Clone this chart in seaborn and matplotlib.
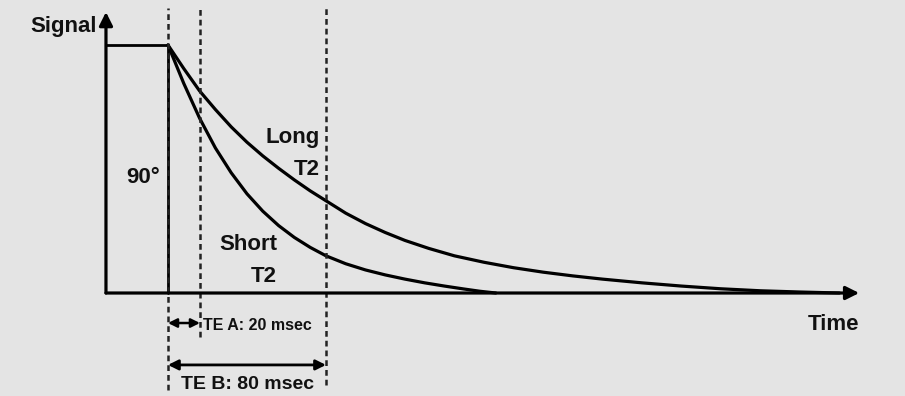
import matplotlib
matplotlib.use('Agg')
import matplotlib.pyplot as plt
import numpy as np
import pandas as pd
import seaborn as sns

# T2 衰减曲线 (时间 ms, 信号 相对于 90° 脉冲幅度)
time_long = [0, 8, 16, 24, 32, 40, 48, 56, 64, 72, 80, 90, 100, 110, 120, 132, 145,
             160, 175, 190, 205, 220, 240, 260, 280, 300, 320, 340]
signal_long = [1.0, 0.905, 0.815, 0.74, 0.67, 0.608, 0.553, 0.503, 0.456, 0.412, 0.372,
               0.322, 0.280, 0.244, 0.212, 0.180, 0.150, 0.124, 0.102, 0.084, 0.069,
               0.056, 0.041, 0.028, 0.017, 0.009, 0.004, 0.0]
time_short = [0, 8, 16, 24, 32, 40, 48, 56, 64, 72, 80, 90, 100, 110, 120, 130, 140,
              150, 158, 166]
signal_short = [1.0, 0.845, 0.705, 0.585, 0.485, 0.400, 0.330, 0.272, 0.224, 0.184,
                0.150, 0.118, 0.093, 0.073, 0.056, 0.041, 0.028, 0.016, 0.007, 0.0]

# 回波时间 (虚线位置, 图上的 TE A 画在 16 ms 处)
te_drawn = [0, 16.2, 80]
te_labels = ['TE A: 20 msec', 'TE B: 80 msec']
pulse_amp = 1.0
t_axis_start = -31.4
t_axis_end = 350
signal_axis_top = 1.133

bg = '#e4e4e4'
sns.set_theme(style='white')
plt.rcParams['font.family'] = ['Liberation Sans', 'DejaVu Sans']

df = pd.concat([
    pd.DataFrame({'time': time_long, 'signal': signal_long, 'T2': 'Long'}),
    pd.DataFrame({'time': time_short, 'signal': signal_short, 'T2': 'Short'}),
])

fig = plt.figure(figsize=(9.05, 3.96), dpi=100, facecolor=bg)
ax = fig.add_axes([0, 0, 1, 1])
ax.set_facecolor(bg)
ax.set_xlim(-85.06, 373.2)
ax.set_ylim(-0.4153, 1.1815)
ax.axis('off')

# 衰减曲线
sns.lineplot(data=df, x='time', y='signal', hue='T2', palette=['black', 'black'],
             linewidth=2.3, legend=False, sort=True, ax=ax)

# 90° 脉冲
ax.plot([t_axis_start, 0, 0], [pulse_amp, pulse_amp, 0], color='black', lw=2.0,
        solid_joinstyle='miter')

# 坐标轴箭头
ax.annotate('', xy=(t_axis_end, 0), xytext=(t_axis_start, 0),
            arrowprops=dict(arrowstyle='-|>', lw=2.3, color='black',
                            mutation_scale=20, shrinkA=0, shrinkB=0))
ax.annotate('', xy=(t_axis_start, signal_axis_top), xytext=(t_axis_start, 0),
            arrowprops=dict(arrowstyle='-|>', lw=2.3, color='black',
                            mutation_scale=20, shrinkA=0, shrinkB=0))

# 虚线 (TE)
dash_bottom = [-0.39, -0.177, -0.37]
for t, yb in zip(te_drawn, dash_bottom):
    ax.plot([t, t], [yb, 1.149], color='#222222', lw=1.8, linestyle=(0, (2.3, 1.6)))

# TE 双向箭头
ax.annotate('', xy=(te_drawn[1], -0.121), xytext=(te_drawn[0], -0.121),
            arrowprops=dict(arrowstyle='<|-|>', lw=1.8, color='black',
                            mutation_scale=13, shrinkA=0, shrinkB=0))
ax.annotate('', xy=(te_drawn[2], -0.290), xytext=(te_drawn[0], -0.290),
            arrowprops=dict(arrowstyle='<|-|>', lw=2.0, color='black',
                            mutation_scale=15, shrinkA=0, shrinkB=0))


def label(px, py, s, size=16, ha='left'):
    ax.text(px / 905, 1 - py / 396, s, transform=ax.transAxes, fontsize=size,
            fontweight='bold', ha=ha, va='baseline', color='#111111')


label(97, 32, 'Signal', ha='right')
label(143, 183, '90°', ha='center')
label(320, 143, 'Long', ha='right')
label(320, 175, 'T2', ha='right')
label(277, 250, 'Short', ha='right')
label(277, 282, 'T2', ha='right')
label(859, 330, 'Time', ha='right')
label(203, 330, te_labels[0], size=11.5)
label(248, 389, te_labels[1], size=14, ha='center')

plt.savefig('out.png', dpi=100, facecolor=bg)
